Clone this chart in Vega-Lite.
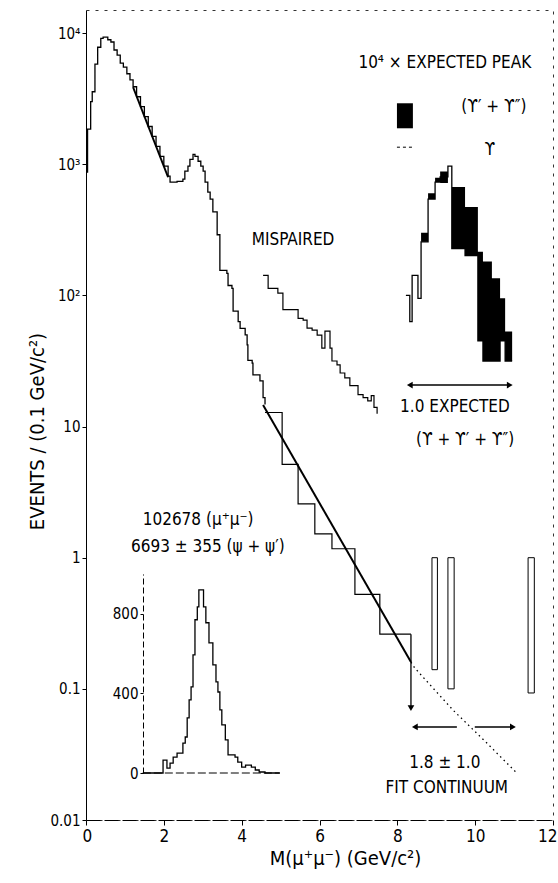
{
  "$schema": "https://vega.github.io/schema/vega-lite/v6.json",
  "width": 467,
  "height": 810,
  "autosize": {"type": "none"},
  "padding": {"left": 86, "top": 10, "right": 5, "bottom": 63},
  "background": "white",
  "config": {
    "view": {"stroke": "#333", "strokeWidth": 1, "strokeDash": [3, 6]},
    "font": "DejaVu Sans Condensed",
    "axis": {"labelFont": "DejaVu Sans Condensed", "titleFont": "DejaVu Sans Condensed", "labelColor": "black", "titleColor": "black", "domainColor": "black", "tickColor": "black", "titleFontWeight": "normal", "grid": false},
    "text": {"font": "DejaVu Sans Condensed"}
  },
  "datasets": {
    "main": [
      {"x": 0.00, "v": 870}, {"x": 0.04, "v": 1850}, {"x": 0.12, "v": 3000}, {"x": 0.16, "v": 3570},
      {"x": 0.23, "v": 5800}, {"x": 0.30, "v": 7800}, {"x": 0.38, "v": 9100}, {"x": 0.44, "v": 9330},
      {"x": 0.56, "v": 8900}, {"x": 0.64, "v": 8550}, {"x": 0.72, "v": 7430}, {"x": 0.80, "v": 6800},
      {"x": 0.88, "v": 5900}, {"x": 0.96, "v": 5500}, {"x": 1.05, "v": 4900}, {"x": 1.13, "v": 4400},
      {"x": 1.21, "v": 3900}, {"x": 1.30, "v": 3270}, {"x": 1.40, "v": 2750}, {"x": 1.50, "v": 2310},
      {"x": 1.60, "v": 1940}, {"x": 1.70, "v": 1630}, {"x": 1.80, "v": 1370}, {"x": 1.90, "v": 1150},
      {"x": 2.00, "v": 966}, {"x": 2.11, "v": 811}, {"x": 2.16, "v": 731}, {"x": 2.34, "v": 740},
      {"x": 2.49, "v": 769}, {"x": 2.54, "v": 885}, {"x": 2.62, "v": 966}, {"x": 2.67, "v": 1091},
      {"x": 2.75, "v": 1191}, {"x": 2.80, "v": 1150}, {"x": 2.88, "v": 1054}, {"x": 2.95, "v": 966},
      {"x": 3.01, "v": 885}, {"x": 3.06, "v": 731}, {"x": 3.13, "v": 614}, {"x": 3.19, "v": 543},
      {"x": 3.26, "v": 433}, {"x": 3.37, "v": 290}, {"x": 3.44, "v": 155}, {"x": 3.62, "v": 147},
      {"x": 3.65, "v": 119}, {"x": 3.75, "v": 113}, {"x": 3.78, "v": 76}, {"x": 3.91, "v": 63},
      {"x": 3.96, "v": 56}, {"x": 4.09, "v": 50}, {"x": 4.14, "v": 42}, {"x": 4.16, "v": 32},
      {"x": 4.27, "v": 30.5}, {"x": 4.29, "v": 24.8}, {"x": 4.47, "v": 22.3}, {"x": 4.55, "v": 16.6},
      {"x": 4.60, "v": 14.7}
    ],
    "wide": [
      {"x": 4.60, "v": 12.8}, {"x": 5.04, "v": 5.15}, {"x": 5.45, "v": 2.57}, {"x": 5.88, "v": 1.52},
      {"x": 6.32, "v": 1.17}, {"x": 6.91, "v": 0.525}, {"x": 7.55, "v": 0.261}, {"x": 8.35, "v": 0.261}
    ],
    "fit": [
      {"x": 1.21, "v": 3864, "s": "a"}, {"x": 2.11, "v": 796, "s": "a"},
      {"x": 4.55, "v": 14.6, "s": "b"}, {"x": 8.35, "v": 0.16, "s": "b"}
    ],
    "fitdot": [
      {"x": 8.35, "v": 0.16}, {"x": 8.45, "v": 0.144}, {"x": 9.43, "v": 0.0689},
      {"x": 10.30, "v": 0.0386}, {"x": 11.07, "v": 0.0228}
    ],
    "mis": [
      {"x": 4.55, "v": 142}, {"x": 4.68, "v": 113}, {"x": 4.93, "v": 104}, {"x": 5.06, "v": 78},
      {"x": 5.45, "v": 66.9}, {"x": 5.58, "v": 64.7}, {"x": 5.68, "v": 56.2}, {"x": 5.81, "v": 54.3},
      {"x": 5.94, "v": 49.8}, {"x": 6.06, "v": 39.6}, {"x": 6.14, "v": 53.4}, {"x": 6.27, "v": 39.6},
      {"x": 6.32, "v": 31.6}, {"x": 6.45, "v": 29.5}, {"x": 6.53, "v": 25.6}, {"x": 6.65, "v": 23.5},
      {"x": 6.78, "v": 20.5}, {"x": 6.99, "v": 17.5}, {"x": 7.12, "v": 16.6}, {"x": 7.24, "v": 15.7},
      {"x": 7.33, "v": 17.2}, {"x": 7.40, "v": 14.0}, {"x": 7.48, "v": 12.5}
    ],
    "ups": [
      {"x": 8.22, "v": 100}, {"x": 8.32, "v": 63}, {"x": 8.38, "v": 142}, {"x": 8.53, "v": 95},
      {"x": 8.61, "v": 256}, {"x": 8.79, "v": 543}, {"x": 8.97, "v": 731}, {"x": 9.10, "v": 800},
      {"x": 9.30, "v": 966}, {"x": 9.40, "v": 227}, {"x": 9.74, "v": 201}, {"x": 10.07, "v": 45},
      {"x": 10.20, "v": 31.6}, {"x": 10.64, "v": 45}, {"x": 10.77, "v": 31.6}, {"x": 10.95, "v": 31.6}
    ],
    "upsband": [
      {"x": 8.61, "v": 300, "v2": 256}, {"x": 8.79, "v": 600, "v2": 543}, {"x": 8.97, "v": 790, "v2": 731},
      {"x": 9.10, "v": 880, "v2": 720}, {"x": 9.30, "v": 966, "v2": 966}, {"x": 9.40, "v": 670, "v2": 227},
      {"x": 9.74, "v": 472, "v2": 201}, {"x": 10.07, "v": 215, "v2": 45}, {"x": 10.20, "v": 181, "v2": 31.6},
      {"x": 10.43, "v": 135, "v2": 31.6}, {"x": 10.64, "v": 95, "v2": 45}, {"x": 10.77, "v": 53, "v2": 31.6},
      {"x": 10.95, "v": 53, "v2": 31.6}
    ],
    "bars": [
      {"x": 8.89, "x2": 9.03, "v": 1, "v2": 0.14},
      {"x": 9.30, "x2": 9.46, "v": 1, "v2": 0.1},
      {"x": 11.36, "x2": 11.52, "v": 1, "v2": 0.093}
    ],
    "legbox": [{"x": 7.99, "x2": 8.40, "v": 2917, "v2": 1880}],
    "legdash": [{"x": 7.99, "x2": 8.40, "v": 1349}],
    "arrows": [
      {"x": 8.32, "x2": 10.89, "v": 20.7},
      {"x": 8.45, "x2": 9.53, "v": 0.0512},
      {"x": 9.99, "x2": 10.97, "v": 0.0512}
    ],
    "limit": [{"x": 8.35, "v": 0.261, "v2": 0.0714}],
    "heads": [
      {"x": 8.32, "v": 20.7, "d": "left"}, {"x": 10.89, "v": 20.7, "d": "right"},
      {"x": 8.45, "v": 0.0512, "d": "left"}, {"x": 10.97, "v": 0.0512, "d": "right"},
      {"x": 8.35, "v": 0.0714, "d": "down"}
    ],
    "texts": [
      {"x": 9.22, "v": 5890, "t": "10⁴ × EXPECTED PEAK"},
      {"x": 10.48, "v": 2717, "t": "(ϒ′ + ϒ″)"},
      {"x": 10.38, "v": 1279, "t": "ϒ"},
      {"x": 5.32, "v": 263, "t": "MISPAIRED"},
      {"x": 9.48, "v": 14.06, "t": "1.0 EXPECTED"},
      {"x": 9.74, "v": 7.87, "t": "(ϒ + ϒ′ + ϒ″)"},
      {"x": 2.88, "v": 1.94, "t": "102678 (μ⁺μ⁻)"},
      {"x": 3.13, "v": 1.205, "t": "6693 ± 355 (ψ + ψ′)"},
      {"x": 9.22, "v": 0.0272, "t": "1.8 ± 1.0"},
      {"x": 9.27, "v": 0.01754, "t": "FIT CONTINUUM"}
    ],
    "inset": [
      {"x": 1.46, "c": 0}, {"x": 1.98, "c": 65}, {"x": 2.08, "c": 25}, {"x": 2.16, "c": 50},
      {"x": 2.24, "c": 80}, {"x": 2.34, "c": 100}, {"x": 2.49, "c": 150}, {"x": 2.55, "c": 181},
      {"x": 2.60, "c": 277}, {"x": 2.65, "c": 367}, {"x": 2.70, "c": 433}, {"x": 2.75, "c": 594},
      {"x": 2.80, "c": 770}, {"x": 2.86, "c": 835}, {"x": 2.90, "c": 920}, {"x": 3.02, "c": 835},
      {"x": 3.08, "c": 755}, {"x": 3.16, "c": 654}, {"x": 3.26, "c": 543}, {"x": 3.34, "c": 458},
      {"x": 3.39, "c": 407}, {"x": 3.44, "c": 317}, {"x": 3.49, "c": 242}, {"x": 3.58, "c": 166},
      {"x": 3.65, "c": 91}, {"x": 3.83, "c": 80}, {"x": 3.90, "c": 55}, {"x": 4.00, "c": 30},
      {"x": 4.10, "c": 40}, {"x": 4.25, "c": 30}, {"x": 4.35, "c": 15}, {"x": 4.45, "c": 5},
      {"x": 4.60, "c": 0}, {"x": 4.98, "c": 0}
    ],
    "insetaxis": [{"x": 1.46, "x2": 4.98, "c": 0}]
  },
  "encoding": {
    "x": {
      "field": "x", "type": "quantitative",
      "scale": {"domain": [0, 12], "nice": false},
      "axis": {
        "values": [0, 2, 4, 6, 8, 10, 12], "title": "M(μ⁺μ⁻) (GeV/c²)",
        "tickSize": 5, "labelPadding": 3, "labelFontSize": 17, "labelFlush": true, "labelFlushOffset": 4,
        "titleFontSize": 20, "titleX": 259, "titleY": 38, "titleBaseline": "middle", "titleAlign": "center",
        "domainDash": [14, 4]
      }
    }
  },
  "layer": [
    {
      "encoding": {
        "y": {
          "field": "v", "type": "quantitative",
          "scale": {"type": "log", "domain": [0.01, 15000], "nice": false},
          "axis": {
            "values": [0.01, 0.1, 1, 10, 100, 1000, 10000],
            "labelExpr": "datum.value < 0.05 ? '0.01' : datum.value < 0.5 ? '0.1' : datum.value < 5 ? '1' : datum.value < 50 ? '10' : datum.value < 500 ? '10²' : datum.value < 5000 ? '10³' : '10⁴'",
            "title": "EVENTS / (0.1 GeV/c²)", "tickSize": 4, "labelPadding": 2, "labelFontSize": 15,
            "titleFontSize": 20, "titleX": -49, "titleY": 421, "titleAngle": -90, "titleAlign": "center", "titleBaseline": "middle"
          }
        }
      },
      "layer": [
        {"data": {"name": "upsband"}, "mark": {"type": "area", "interpolate": "step-after", "color": "black"}, "encoding": {"y2": {"field": "v2"}}},
        {"data": {"name": "ups"}, "mark": {"type": "line", "interpolate": "step-after", "color": "black", "strokeWidth": 1.3}},
        {"data": {"name": "main"}, "mark": {"type": "line", "interpolate": "step-after", "color": "black", "strokeWidth": 1.3}},
        {"data": {"name": "wide"}, "mark": {"type": "line", "interpolate": "step-after", "color": "black", "strokeWidth": 1.2}},
        {"data": {"name": "fit"}, "mark": {"type": "line", "color": "black", "strokeWidth": 2}, "encoding": {"detail": {"field": "s"}}},
        {"data": {"name": "fitdot"}, "mark": {"type": "line", "color": "black", "strokeWidth": 1.3, "strokeDash": [1.5, 3.5]}},
        {"data": {"name": "mis"}, "mark": {"type": "line", "interpolate": "step-after", "color": "black", "strokeWidth": 1.2}},
        {"data": {"name": "bars"}, "mark": {"type": "rect", "filled": false, "stroke": "black", "strokeWidth": 1}, "encoding": {"x2": {"field": "x2"}, "y2": {"field": "v2"}}},
        {"data": {"name": "legbox"}, "mark": {"type": "rect", "color": "black"}, "encoding": {"x2": {"field": "x2"}, "y2": {"field": "v2"}}},
        {"data": {"name": "legdash"}, "mark": {"type": "rule", "color": "black", "strokeDash": [3, 3], "strokeWidth": 1}, "encoding": {"x2": {"field": "x2"}}},
        {"data": {"name": "arrows"}, "mark": {"type": "rule", "color": "black", "strokeWidth": 1.5}, "encoding": {"x2": {"field": "x2"}}},
        {"data": {"name": "limit"}, "mark": {"type": "rule", "color": "black", "strokeWidth": 1.3}, "encoding": {"y2": {"field": "v2"}}},
        {"data": {"name": "heads"}, "mark": {"type": "point", "filled": true, "color": "black", "size": 45, "opacity": 1},
          "encoding": {"shape": {"field": "d", "type": "nominal", "scale": {"domain": ["left", "right", "down"], "range": ["triangle-left", "triangle-right", "triangle-down"]}, "legend": null}}},
        {"data": {"name": "texts"}, "mark": {"type": "text", "fontSize": 17, "color": "black", "align": "center", "baseline": "middle"}, "encoding": {"text": {"field": "t"}}}
      ]
    },
    {
      "encoding": {
        "y": {
          "field": "c", "type": "quantitative",
          "scale": {"domain": [0, 1000], "range": [763, 564], "nice": false},
          "axis": {"orient": "left", "offset": -57, "values": [0, 400, 800], "title": null, "tickSize": 3, "labelPadding": 2, "labelFontSize": 15, "domainDash": [6, 3]}
        }
      },
      "layer": [
        {"data": {"name": "inset"}, "mark": {"type": "line", "interpolate": "step-after", "color": "black", "strokeWidth": 1.3}},
        {"data": {"name": "insetaxis"}, "mark": {"type": "rule", "color": "black", "strokeDash": [8, 3]}, "encoding": {"x2": {"field": "x2"}}}
      ]
    }
  ],
  "resolve": {"scale": {"y": "independent"}, "axis": {"y": "independent"}}
}
